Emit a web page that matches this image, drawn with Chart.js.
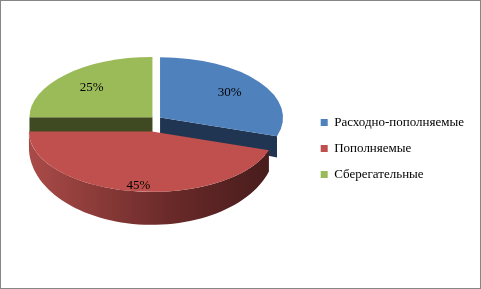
<!DOCTYPE html>
<html>
<head>
<meta charset="utf-8">
<script src="https://cdn.jsdelivr.net/npm/chart.js@4"></script>
<style>
  body { margin: 0; background: #fff; }
  #frame { width: 481px; height: 289px; box-sizing: border-box; border: 1px solid #868686; }
  canvas { display: block; }
</style>
</head>
<body>
<div id="frame"><canvas id="pieChart" width="479" height="287"></canvas></div>
<script>
const categories = ['Расходно-пополняемые', 'Пополняемые', 'Сберегательные'];
const shares = [30, 45, 25];
const topColors = ['#4F81BD', '#C0504D', '#9BBB59'];
const sideColors = ['#1F3552', '#7A2F2D', '#3F4A22'];
const explode = [5, 26, 5];

// fake 3d look: flatten the pie and draw walls under it
const CX = 155, CY = 118, RX = 123, K = 0.49;
const D0 = 16, D1 = 17;

function depthAt(v) {
    return D0 + D1 * Math.max(0, v);
}

const pie3d = {
    id: 'pie3d',
    beforeDatasetDraw(chart) {
        const ctx = chart.ctx;
        const arcs = chart.getDatasetMeta(0).data;
        const x0 = arcs[0].x, y0 = arcs[0].y;
        const s = RX / arcs[0].outerRadius;

        const shift = arcs.map((a, i) => {
            const mid = (a.startAngle + a.endAngle) / 2;
            return { x: Math.cos(mid) * explode[i], y: Math.sin(mid) * explode[i] };
        });

        // outer walls + radial faces
        arcs.forEach((a, i) => {
            const sh = shift[i];
            const ox = CX + sh.x, oy = CY + K * sh.y;

            // radial faces that look to the front
            [[a.startAngle, a.startAngle - Math.PI / 2], [a.endAngle, a.endAngle + Math.PI / 2]].forEach(([t, n]) => {
                if (Math.sin(n) <= 0.01) return;
                const rx = ox + RX * Math.cos(t), ry = oy + K * RX * Math.sin(t);
                ctx.beginPath();
                ctx.moveTo(ox, oy);
                ctx.lineTo(rx, ry);
                ctx.lineTo(rx, ry + depthAt(Math.sin(t)));
                ctx.lineTo(ox, oy + depthAt(0));
                ctx.closePath();
                ctx.fillStyle = sideColors[i];
                ctx.fill();
            });

            // visible part of the rim is 0..PI
            let t1 = a.startAngle, t2 = a.endAngle;
            while (t1 < -0.0001) { t1 += 2 * Math.PI; t2 += 2 * Math.PI; }
            const lo = Math.max(t1, 0), hi = Math.min(t2, Math.PI);
            if (hi <= lo) return;
            const n = 60;
            const pts = [];
            for (let j = 0; j <= n; j++) {
                const t = lo + (hi - lo) * j / n;
                pts.push([ox + RX * Math.cos(t), oy + K * RX * Math.sin(t), depthAt(Math.sin(t))]);
            }
            ctx.beginPath();
            pts.forEach((p, j) => j ? ctx.lineTo(p[0], p[1]) : ctx.moveTo(p[0], p[1]));
            for (let j = pts.length - 1; j >= 0; j--) ctx.lineTo(pts[j][0], pts[j][1] + pts[j][2]);
            ctx.closePath();
            if (i === 1) {
                const g = ctx.createLinearGradient(CX - RX, 0, CX + RX, 0);
                g.addColorStop(0, '#A84A47');
                g.addColorStop(0.55, '#6A2A29');
                g.addColorStop(1, '#451B1B');
                ctx.fillStyle = g;
            } else {
                ctx.fillStyle = sideColors[i];
            }
            ctx.fill();
        });

        // top faces, drawn by the arc elements under a flattening transform
        arcs.forEach((a, i) => {
            ctx.save();
            ctx.translate(CX + shift[i].x, CY + K * shift[i].y);
            ctx.scale(s, s * K);
            ctx.translate(-x0, -y0);
            a.draw(ctx);
            ctx.restore();
        });

        // percent labels
        const total = shares.reduce((p, c) => p + c, 0);
        ctx.save();
        ctx.font = '13px "Liberation Serif"';
        ctx.fillStyle = '#000';
        ctx.textAlign = 'center';
        ctx.textBaseline = 'middle';
        arcs.forEach((a, i) => {
            const mid = (a.startAngle + a.endAngle) / 2;
            const f = 0.7;
            const lx = CX + shift[i].x + Math.cos(mid) * RX * f;
            const ly = CY + K * (shift[i].y + Math.sin(mid) * RX * f) + 12 * Math.max(0, Math.sin(mid));
            ctx.fillText(Math.round(shares[i] / total * 100) + '%', lx, ly);
        });
        ctx.restore();
        return false;
    }
};

new Chart(document.getElementById('pieChart'), {
    type: 'pie',
    data: {
        labels: categories,
        datasets: [{
            data: shares,
            backgroundColor: topColors,
            borderWidth: 0
        }]
    },
    options: {
        responsive: false,
        animation: false,
        layout: { padding: { top: 8, right: 6 } },
        plugins: {
            legend: {
                position: 'right',
                labels: {
                    boxWidth: 7,
                    boxHeight: 7,
                    padding: 13,
                    color: '#000',
                    font: { family: '"Liberation Serif"', size: 13 }
                }
            },
            tooltip: { enabled: false }
        }
    },
    plugins: [pie3d]
});
</script>
</body>
</html>
